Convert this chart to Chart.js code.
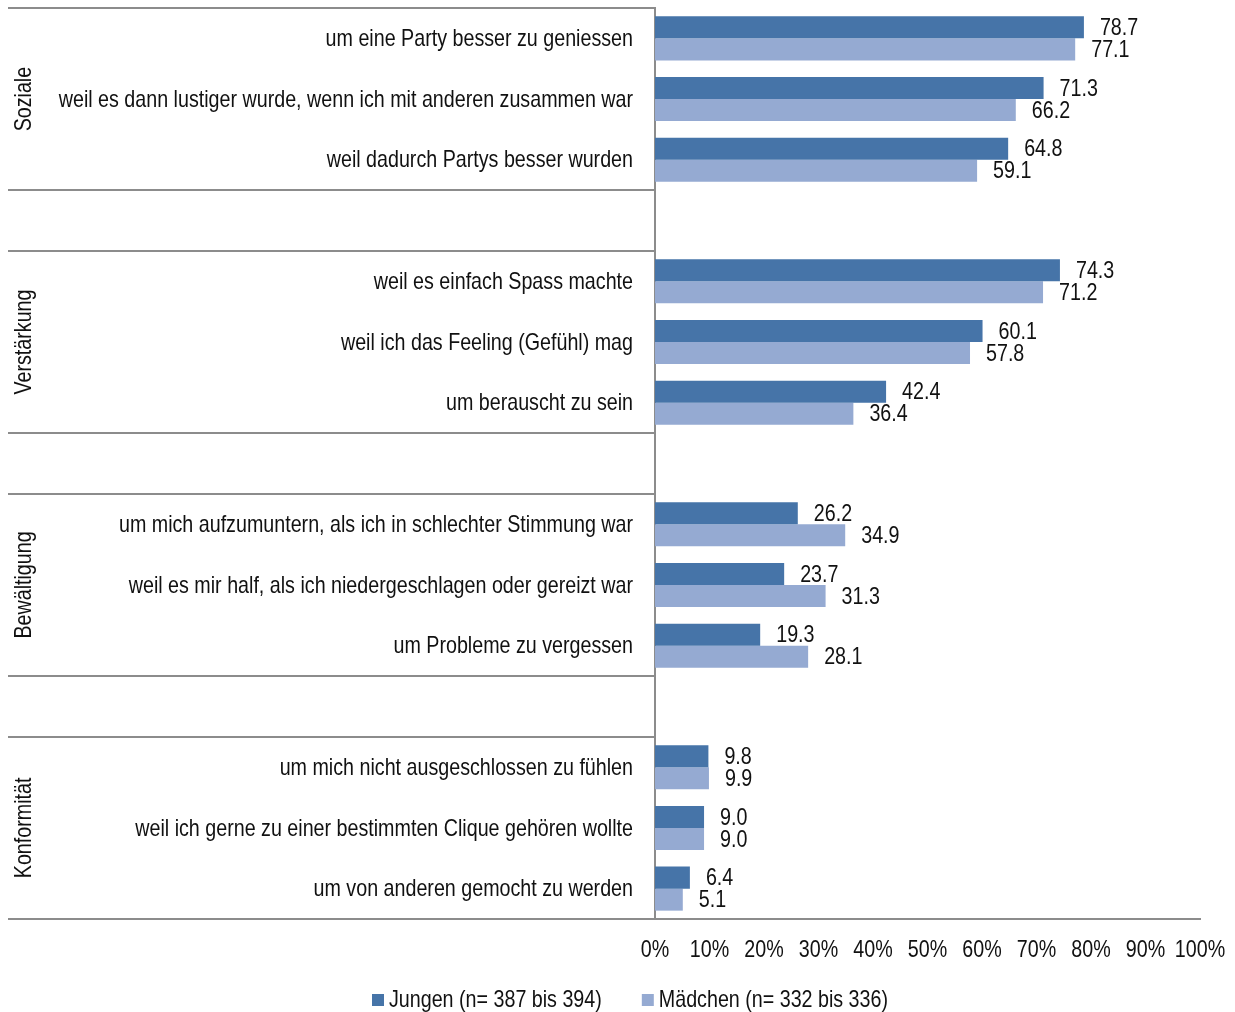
<!DOCTYPE html>
<html>
<head>
<meta charset="utf-8">
<script src="https://cdn.jsdelivr.net/npm/chart.js@4/dist/chart.umd.min.js"></script>
<style>
  html, body { margin: 0; padding: 0; background: #fff; overflow: hidden; }
  #wrap { width: 1235px; height: 1012px; }
</style>
</head>
<body>
<div id="wrap"><canvas id="chart"></canvas></div>
<script>
// Schmale Schrift nachbilden: Liberation Sans, horizontal gestaucht
const FONT = "24px 'Liberation Sans', Arial, sans-serif";
const SQUEEZE = 0.82;
const TEXT = '#111';

// Kategorien (leere Einträge = Abstand zwischen den Gruppen)
const labels = [
    'um eine Party besser zu geniessen',
    'weil es dann lustiger wurde, wenn ich mit anderen zusammen war',
    'weil dadurch Partys besser wurden',
    '',
    'weil es einfach Spass machte',
    'weil ich das Feeling (Gefühl) mag',
    'um berauscht zu sein',
    '',
    'um mich aufzumuntern, als ich in schlechter Stimmung war',
    'weil es mir half, als ich niedergeschlagen oder gereizt war',
    'um Probleme zu vergessen',
    '',
    'um mich nicht ausgeschlossen zu fühlen',
    'weil ich gerne zu einer bestimmten Clique gehören wollte',
    'um von anderen gemocht zu werden'
];
const jungen = [78.7, 71.3, 64.8, null, 74.3, 60.1, 42.4, null, 26.2, 23.7, 19.3, null, 9.8, 9.0, 6.4];
const maedchen = [77.1, 66.2, 59.1, null, 71.2, 57.8, 36.4, null, 34.9, 31.3, 28.1, null, 9.9, 9.0, 5.1];
const xTicks = [0, 10, 20, 30, 40, 50, 60, 70, 80, 90, 100];

// Gruppen: Name, erste und letzte Kategorie
const gruppen = [
    { name: 'Soziale', von: 0, bis: 2 },
    { name: 'Verstärkung', von: 4, bis: 6 },
    { name: 'Bewältigung', von: 8, bis: 10 },
    { name: 'Konformität', von: 12, bis: 14 }
];
// Trennlinien nach diesen Kategorien (-1 = oben)
const trenner = [-1, 2, 3, 6, 7, 10, 11, 14];

function schmal(ctx, text, x, y, align, angle) {
    ctx.save();
    ctx.translate(x, y);
    if (angle) ctx.rotate(angle);
    ctx.scale(SQUEEZE, 1);
    ctx.textAlign = align;
    ctx.fillText(text, 0, 0);
    ctx.restore();
}

const textPlugin = {
    id: 'texte',
    afterDraw(chart) {
        const ctx = chart.ctx;
        const y = chart.scales.y;
        const x = chart.scales.x;
        const area = chart.chartArea;
        const step = y.getPixelForValue(1) - y.getPixelForValue(0);
        ctx.save();
        ctx.strokeStyle = '#8c8c8c';
        ctx.lineWidth = 2;
        trenner.forEach(i => {
            const py = Math.round(y.getPixelForValue(i) + step / 2);
            ctx.beginPath();
            ctx.moveTo(8, py);
            ctx.lineTo(area.left, py);
            ctx.stroke();
        });

        ctx.fillStyle = TEXT;
        ctx.font = FONT;
        ctx.textBaseline = 'middle';

        // Gruppennamen
        gruppen.forEach(g => {
            const py = (y.getPixelForValue(g.von) + y.getPixelForValue(g.bis)) / 2;
            schmal(ctx, g.name, 24, py, 'center', -Math.PI / 2);
        });

        // Kategorien
        labels.forEach((l, i) => {
            if (l) schmal(ctx, l, area.left - 22, y.getPixelForValue(i) + 1, 'right');
        });

        // x-Achse
        xTicks.forEach(v => {
            schmal(ctx, v + '%', x.getPixelForValue(v), area.bottom + 31, 'center');
        });

        // Wertebeschriftungen
        chart.data.datasets.forEach((ds, di) => {
            const meta = chart.getDatasetMeta(di);
            meta.data.forEach((bar, i) => {
                if (ds.data[i] == null) return;
                schmal(ctx, ds.data[i].toFixed(1), bar.x + 16, bar.y + 1, 'left');
            });
        });

        // Legende
        let lx = 372;
        const ly = 1000;
        chart.data.datasets.forEach(ds => {
            ctx.fillStyle = ds.backgroundColor;
            ctx.fillRect(lx, ly - 6, 12, 12);
            ctx.fillStyle = TEXT;
            schmal(ctx, ds.label, lx + 17, ly, 'left');
            lx += 17 + ctx.measureText(ds.label).width * SQUEEZE + 40;
        });
        ctx.restore();
    }
};

new Chart(document.getElementById('chart'), {
    type: 'bar',
    data: {
        labels: labels,
        datasets: [{
            label: 'Jungen (n= 387 bis 394)',
            data: jungen,
            backgroundColor: '#4674a8',
            barPercentage: 1,
            categoryPercentage: 0.725
        }, {
            label: 'Mädchen (n= 332 bis 336)',
            data: maedchen,
            backgroundColor: '#95aad2',
            barPercentage: 1,
            categoryPercentage: 0.725
        }]
    },
    options: {
        indexAxis: 'y',
        responsive: true,
        maintainAspectRatio: false,
        animation: false,
        layout: { padding: { left: 8, right: 35, top: 8, bottom: 0 } },
        plugins: {
            tooltip: { enabled: false },
            legend: { display: false }
        },
        scales: {
            x: {
                min: 0,
                max: 100,
                ticks: { stepSize: 10, display: false },
                grid: { display: false, drawTicks: false },
                border: { display: true, color: '#8c8c8c', width: 2 },
                afterFit: s => { s.height = 93; }
            },
            y: {
                ticks: { display: false, autoSkip: false },
                grid: { display: false, drawTicks: false },
                border: { display: true, color: '#8c8c8c', width: 2 },
                afterFit: s => { s.width = 647; }
            }
        }
    },
    plugins: [textPlugin]
});
</script>
</body>
</html>
